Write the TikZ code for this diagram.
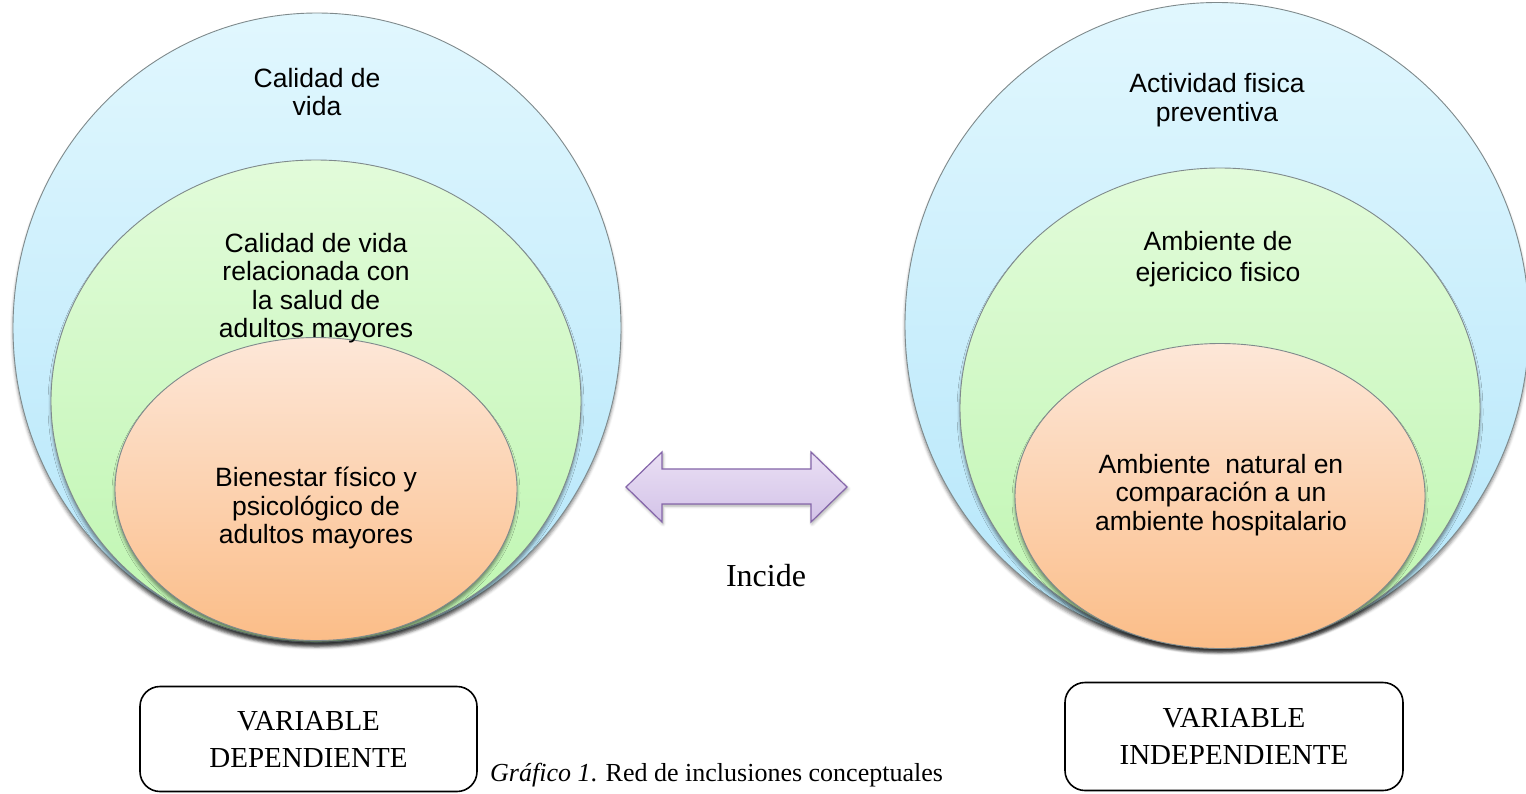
\documentclass[tikz,border=0pt]{standalone}
\usepackage{fontspec}
\setmainfont{Liberation Serif}
\newfontfamily\arialf{Liberation Sans}
\usetikzlibrary{shapes.geometric,shadows.blur}
\definecolor{blueT}{HTML}{E1F7FE}
\definecolor{blueB}{HTML}{B4E6FA}
\definecolor{greenT}{HTML}{E2FBDA}
\definecolor{greenB}{HTML}{BEF6B0}
\definecolor{orangeT}{HTML}{FDE7D8}
\definecolor{orangeB}{HTML}{FBBD88}
\definecolor{lavT}{HTML}{EADFF4}
\definecolor{lavB}{HTML}{D3C3E8}
\definecolor{lavD}{HTML}{8566AA}
\definecolor{rimgray}{HTML}{7F8A8C}
\tikzset{
  venn/.style={ellipse, draw=rimgray, line width=0.9pt, inner sep=0pt,
    blur shadow={shadow xshift=0pt, shadow yshift=-4pt, shadow blur radius=3pt, shadow opacity=45}},
  lvlA/.style={venn, top color=blueT, bottom color=blueB},
  lvlB/.style={venn, top color=greenT, bottom color=greenB},
  lvlC/.style={venn, top color=orangeT, bottom color=orangeB},
  vtext/.style={font=\arialf\fontsize{26.5}{28.5}\selectfont, align=center, text=black, inner sep=0pt},
  varbox/.style={draw=black, line width=1.6pt, rounded corners=20pt, inner sep=0pt,
    font=\fontsize{29}{37}\selectfont, align=center},
}
\begin{document}
\begin{tikzpicture}[x=1pt,y=-1pt]
\useasboundingbox (0,0) rectangle (1526,793);
% left set
\node[lvlA, minimum width=608pt, minimum height=630pt] (LA) at (317,328) {};
\node[lvlB, minimum width=530pt, minimum height=482pt] (LB) at (316,401) {};
\node[lvlC, minimum width=402pt, minimum height=303pt] (LC) at (316,489) {};
\node[vtext] (tLA) at (317,92) {Calidad de\\vida};
\node[vtext] (tLB) at (316,288) {Calidad de vida\\relacionada con\\la salud de\\adultos mayores};
\node[vtext] (tLC) at (316,508) {Bienestar físico y\\psicológico de\\adultos mayores};
% right set
\node[lvlA, minimum width=624pt, minimum height=645pt] (RA) at (1217,325) {};
\node[lvlB, minimum width=520pt, minimum height=480pt] (RB) at (1220,408) {};
\node[lvlC, minimum width=410pt, minimum height=305pt] (RC) at (1220,496) {};
\node[vtext] (tRA) at (1217,100) {Actividad fisica\\preventiva};
\node[vtext, font=\arialf\fontsize{26.5}{31}\selectfont] (tRB) at (1218,259) {Ambiente de\\ejericico fisico};
\node[vtext] (tRC) at (1221,495) {Ambiente\ \ natural en\\comparación a un\\ambiente hospitalario};
% double arrow
\coordinate (AL) at (626,487);
\coordinate (AR) at (847,487);
\path[draw=lavD, line width=1.2pt, line join=miter, top color=lavT, bottom color=lavB,
  blur shadow={shadow xshift=1pt, shadow yshift=-2pt, shadow blur radius=3pt, shadow opacity=35}]
  (AL) -- (662,452) -- (662,469) -- (811,469) -- (811,452) -- (AR)
  -- (811,522) -- (811,504) -- (662,504) -- (662,522) -- cycle;
\node[font=\fontsize{32}{36}\selectfont, inner sep=0pt] (inc) at (766,576) {Incide};
% boxes
\node[varbox, minimum width=337pt, minimum height=105pt] (dep) at (308.5,739) {VARIABLE\\DEPENDIENTE};
\node[varbox, minimum width=338pt, minimum height=108pt] (ind) at (1234,736.5) {VARIABLE\\INDEPENDIENTE};
\node[anchor=base west, font=\fontsize{26}{30}\selectfont, inner sep=0pt] (cap) at (490,781)
  {\textit{Gráfico 1}. Red de inclusiones conceptuales};
\end{tikzpicture}
\end{document}
